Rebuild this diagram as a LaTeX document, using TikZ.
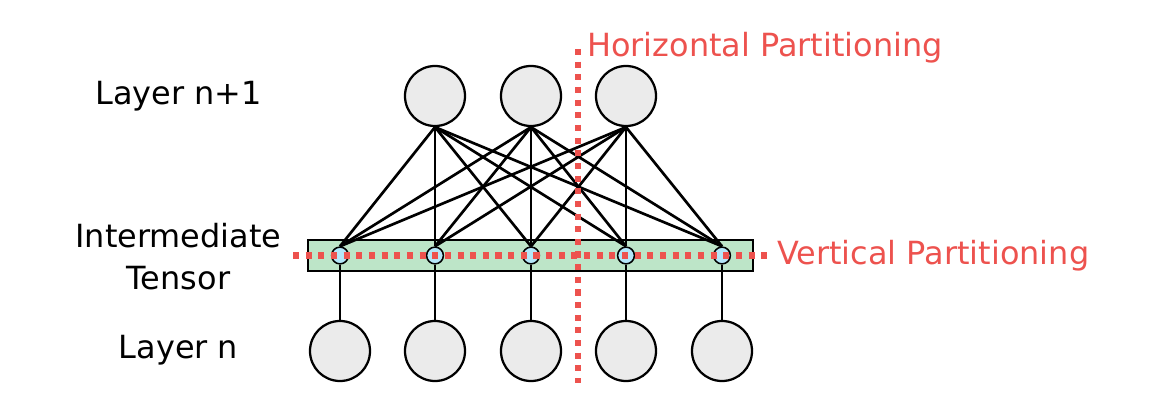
\documentclass[tikz,border=0pt]{standalone}
\usepackage{fontspec}
\setmainfont{DejaVu Sans}
\usetikzlibrary{backgrounds}
\definecolor{partred}{RGB}{237,82,78}
\definecolor{neurongray}{RGB}{235,235,235}
\definecolor{tensorgreen}{RGB}{189,229,200}
\definecolor{cellblue}{RGB}{180,230,248}
\begin{document}
\begin{tikzpicture}[x=0.025cm, y=-0.025cm,
		neuron/.style={circle, draw=black, fill=neurongray, line width=1.6pt, minimum size=1.5cm, inner sep=0pt},
		cell/.style={circle, draw=black, fill=cellblue, line width=1.1pt, minimum size=0.42cm, inner sep=0pt},
		link/.style={line width=1.9pt},
		partline/.style={draw=partred, line width=4.3pt, dash pattern=on 4.3pt off 4.7pt},
		label/.style={anchor=base, inner sep=0pt, font=\fontsize{22.7}{29.2}\selectfont},
		partlabel/.style={label, anchor=base west, text=partred}]
		\useasboundingbox (0,0) rectangle (1160,420);
		
		\node[neuron]	(t1) at (435,96)	{};
		\node[neuron]	(t2) at (531,96)	{};
		\node[neuron]	(t3) at (626,96)	{};
		\node[neuron]	(b1) at (340,351)	{};
		\node[neuron]	(b2) at (435,351)	{};
		\node[neuron]	(b3) at (531,351)	{};
		\node[neuron]	(b4) at (626,351)	{};
		\node[neuron]	(b5) at (722,351)	{};
		
		\node[cell]	(m1) at (340,255.5)	{};
		\node[cell]	(m2) at (435,255.5)	{};
		\node[cell]	(m3) at (531,255.5)	{};
		\node[cell]	(m4) at (626,255.5)	{};
		\node[cell]	(m5) at (722,255.5)	{};
		
		\begin{pgfonlayer}{background}
		\draw[fill=tensorgreen, line width=1.6pt] (308,240) rectangle (753,271);
		
		\draw[link] (t1.south) -- (m1.north);
		\draw[link] (t1.south) -- (m2.north);
		\draw[link] (t1.south) -- (m3.north);
		\draw[link] (t1.south) -- (m4.north);
		\draw[link] (t1.south) -- (m5.north);
		\draw[link] (t2.south) -- (m1.north);
		\draw[link] (t2.south) -- (m2.north);
		\draw[link] (t2.south) -- (m3.north);
		\draw[link] (t2.south) -- (m4.north);
		\draw[link] (t2.south) -- (m5.north);
		\draw[link] (t3.south) -- (m1.north);
		\draw[link] (t3.south) -- (m2.north);
		\draw[link] (t3.south) -- (m3.north);
		\draw[link] (t3.south) -- (m4.north);
		\draw[link] (t3.south) -- (m5.north);
		
		\draw[link] (b1.north) -- (m1.south);
		\draw[link] (b2.north) -- (m2.south);
		\draw[link] (b3.north) -- (m3.south);
		\draw[link] (b4.north) -- (m4.south);
		\draw[link] (b5.north) -- (m5.south);
		\end{pgfonlayer}
		
		\coordinate (hp top) at (578,49);
		\coordinate (hp bot) at (578,383);
		\coordinate (vp left) at (293,255.5);
		\coordinate (vp right) at (770,255.5);
		\draw[partline] (hp top) -- (hp bot);
		\draw[partline] (vp left) -- (vp right);
		
		\node[partlabel]	(hlabel) at (587,57)	{Horizontal Partitioning};
		\node[partlabel]	(vlabel) at (777,264.5)	{Vertical Partitioning};
		\node[label]	(ln1) at (178.5,105)	{Layer n+1};
		\node[label, align=center]	(lmid) at (178.5,289)	{Intermediate\\Tensor};
		\node[label]	(ln) at (178.5,358)	{Layer n};
		
		\end{tikzpicture}
\end{document}
